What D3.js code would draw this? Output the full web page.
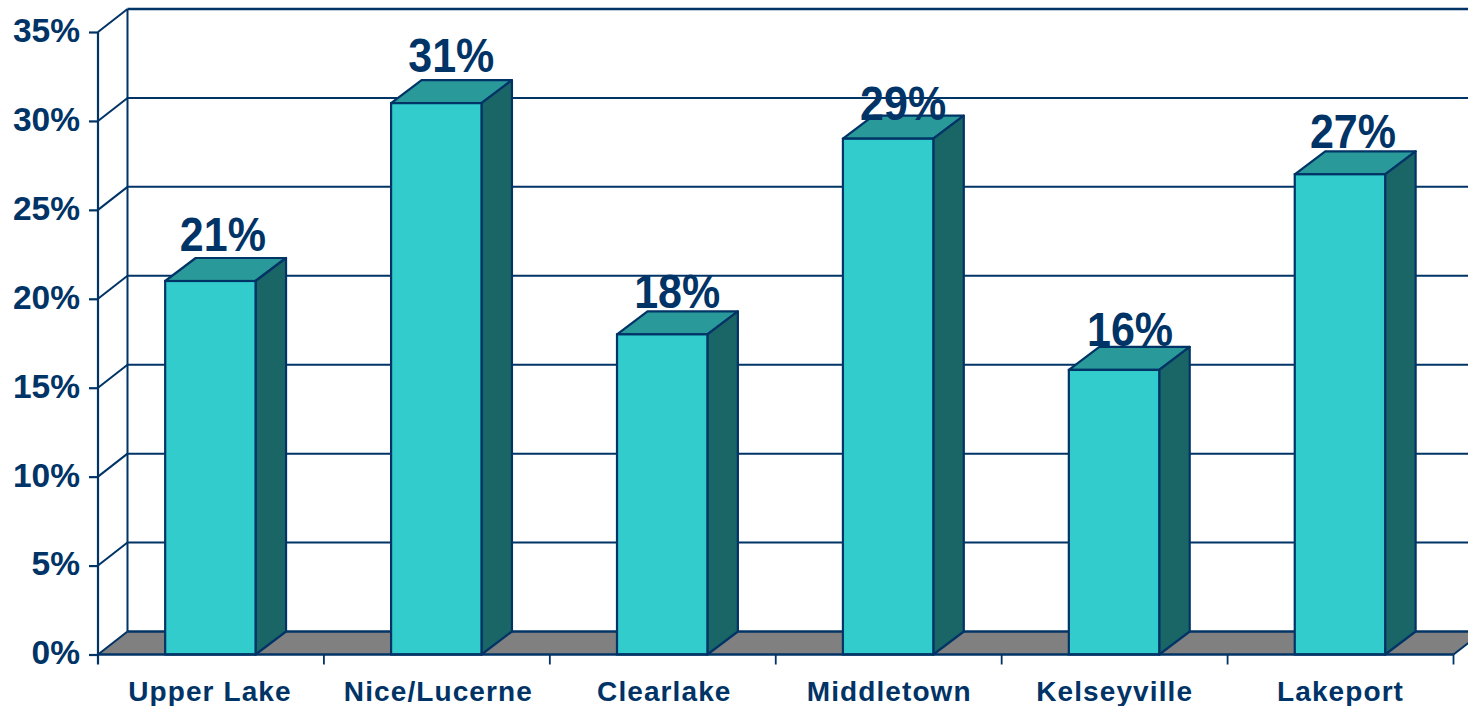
<!DOCTYPE html>
<html><head><meta charset="utf-8"><style>html,body{margin:0;padding:0;background:#fff;overflow:hidden}svg{display:block}text{font-family:"Liberation Sans",Arial,sans-serif;fill:#003366}</style>
<script src="https://cdn.jsdelivr.net/npm/d3@7"></script></head><body><svg id="c" width="1468" height="706"></svg>
<script>
const categories=["Upper Lake","Nice/Lucerne","Clearlake","Middletown","Kelseyville","Lakeport"];
const values=[21,31,18,29,16,27];
const yTicks=[0,5,10,15,20,25,30,35];
const ink="#003366",front="#33CCCC",topC="#299999",sideC="#1A6666",floorC="#808080";
const dx=29.5,dy=-23,barDx=30.5;
const labelLift=[30,31,26,18.5,24,26], labelShift=[12.5,15,15,15,16,13];
const svg=d3.select("#c");
const x=d3.scaleBand().domain(categories).range([97.4,1452.9]).paddingInner(0.6).paddingOuter(0.3);
const band=d3.scaleBand().domain(categories).range([98,1453.5]);
const y=d3.scaleLinear().domain([0,35]).range([654.5,32]);
const y0=y(0);
svg.append("polygon").attr("points",[[98,y0],[98+dx,y0+dy],[1453.5+dx,y0+dy],[1453.5,y0]].join(" ")).attr("fill",floorC);
svg.append("line").attr("x1",98).attr("y1",y0).attr("x2",98+dx).attr("y2",y0+dy).attr("stroke",ink).attr("stroke-width",2);
svg.append("line").attr("x1",98+dx).attr("x2",98+dx).attr("y1",y(35)+dy).attr("y2",y0+dy).attr("stroke",ink).attr("stroke-width",2);
svg.selectAll(".grid").data(yTicks).join("line").attr("x1",98+dx).attr("x2",1468).attr("y1",d=>y(d)+dy).attr("y2",d=>y(d)+dy).attr("stroke",ink).attr("stroke-width",d=>d===35||d===0?2.5:2);
svg.selectAll(".slant").data(yTicks.slice(1)).join("line").attr("x1",98).attr("x2",98+dx).attr("y1",d=>y(d)).attr("y2",d=>y(d)+dy).attr("stroke",ink).attr("stroke-width",2);
svg.append("line").attr("x1",1453.5).attr("y1",y0).attr("x2",1453.5+dx).attr("y2",y0+dy).attr("stroke",ink).attr("stroke-width",2);
const g=svg.selectAll(".bar").data(categories).join("g");
g.append("polygon").attr("fill",topC).attr("stroke",ink).attr("stroke-width",2.2).attr("stroke-linejoin","round")
 .attr("points",(c,i)=>{const a=x(c),b=a+x.bandwidth(),t=y(values[i]);return [[a,t],[a+barDx,t+dy],[b+barDx,t+dy],[b,t]].join(" ")});
g.append("polygon").attr("fill",sideC).attr("stroke",ink).attr("stroke-width",2.2).attr("stroke-linejoin","round")
 .attr("points",(c,i)=>{const b=x(c)+x.bandwidth(),t=y(values[i]);return [[b,t],[b+barDx,t+dy],[b+barDx,y0+dy],[b,y0]].join(" ")});
g.append("rect").attr("fill",front).attr("stroke",ink).attr("stroke-width",2.2)
 .attr("x",c=>x(c)).attr("width",x.bandwidth()).attr("y",(c,i)=>y(values[i])).attr("height",(c,i)=>y0-y(values[i]));
const ay=d3.axisLeft(y).tickValues(yTicks).tickSize(9).tickPadding(0).tickFormat(d=>d+"%");
const gy=svg.append("g").attr("transform","translate(98,0)").call(ay);
gy.select(".domain").attr("stroke",ink).attr("stroke-width",2.2).attr("d",`M0,${y(35)}V${y0+10}`);
gy.selectAll(".tick line").attr("stroke",ink).attr("stroke-width",2.2);
gy.selectAll(".tick text").attr("x",-18).attr("dy","0.28em").attr("font-size",33.5).attr("font-weight",700).attr("font-family",null).attr("fill",ink).style("font-family",'"Liberation Sans",Arial,sans-serif');
svg.append("line").attr("x1",98).attr("x2",1453.5).attr("y1",y0).attr("y2",y0).attr("stroke",ink).attr("stroke-width",2.5);
const tickXs=categories.map(c=>band(c)).concat(band.range()[1]);
svg.selectAll(".xt").data(tickXs.slice(1)).join("line").attr("x1",d=>d).attr("x2",d=>d).attr("y1",y0).attr("y2",y0+10).attr("stroke",ink).attr("stroke-width",1.8);
svg.selectAll(".cat").data(categories).join("text").attr("x",(c,i)=>band(c)+band.bandwidth()/2+[-1,1.5,1.5,0.5,0,0][i]).attr("y",700.5)
 .attr("text-anchor","middle").attr("font-size",28).attr("font-weight",700).attr("letter-spacing",1.1).text(c=>c);
svg.selectAll(".val").data(categories).join("text").attr("class","val")
 .attr("transform",(c,i)=>`translate(${x(c)+x.bandwidth()/2+labelShift[i]},${y(values[i])-labelLift[i]}) scale(1,1.1)`)
 .attr("text-anchor","middle").attr("font-size",43).attr("font-weight",700).text((c,i)=>values[i]+"%");
</script></body></html>
